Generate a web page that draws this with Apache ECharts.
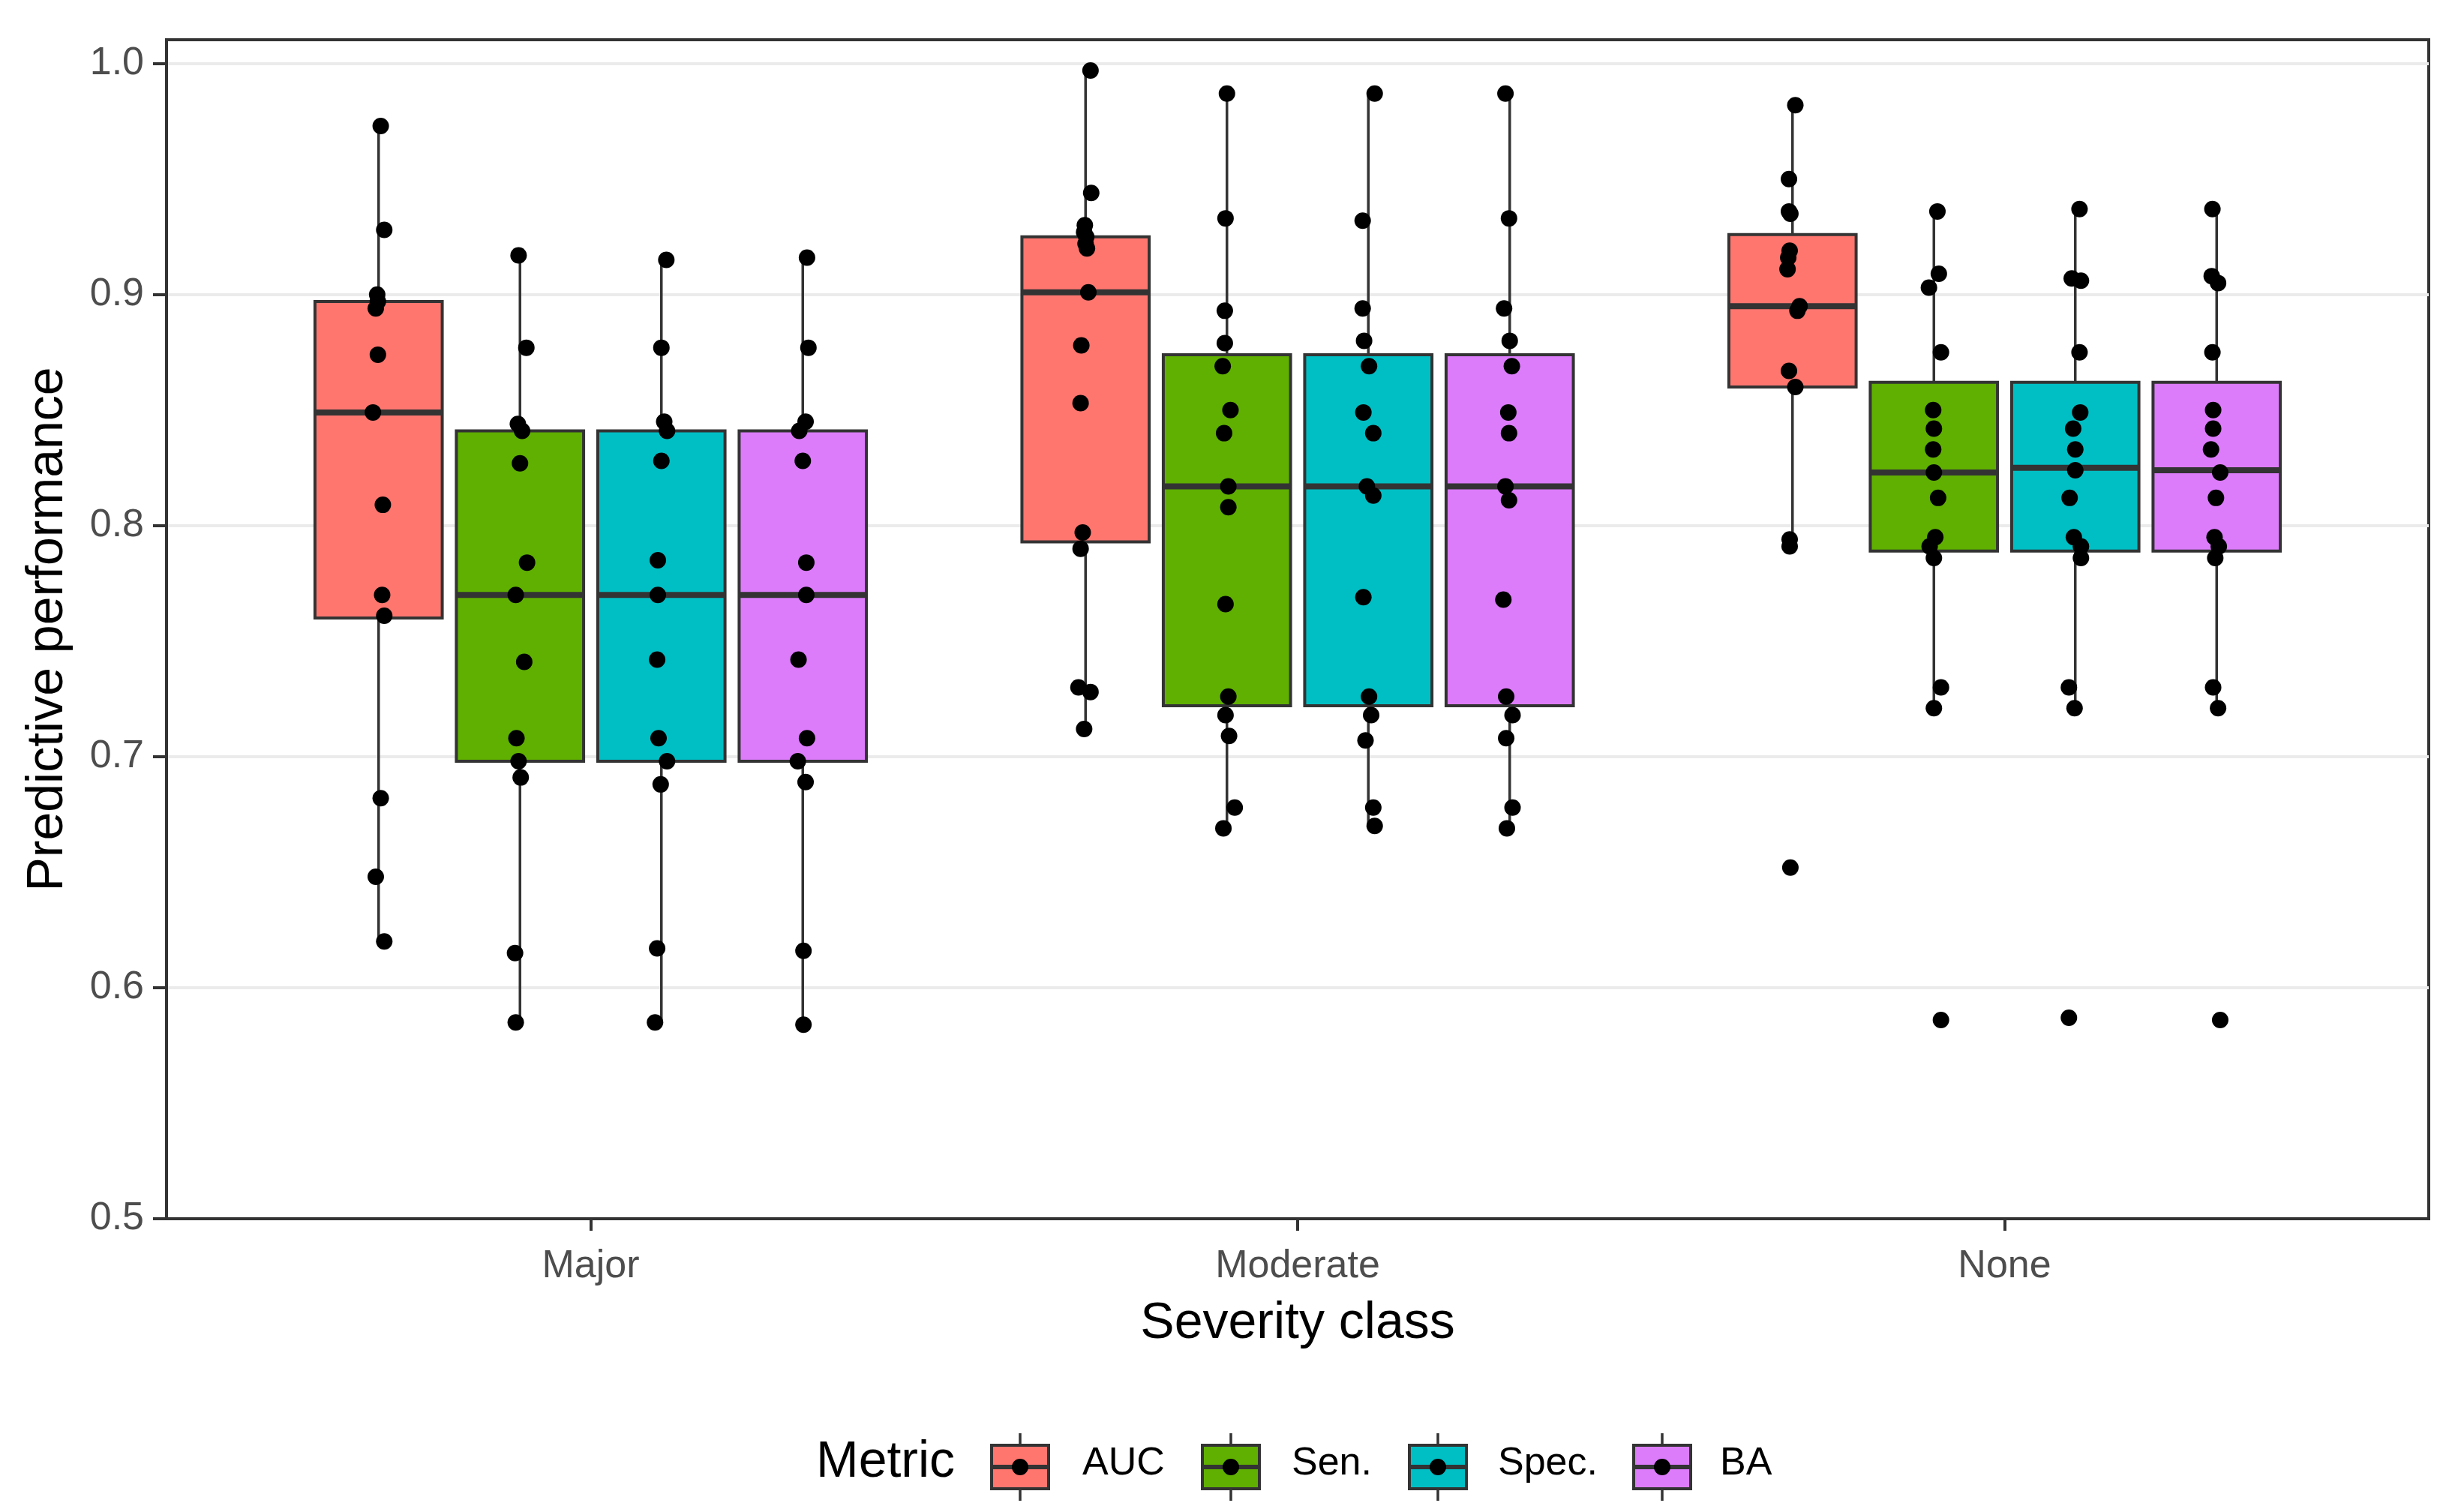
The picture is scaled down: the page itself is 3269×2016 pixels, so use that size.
<!DOCTYPE html>
<html>
<head>
<meta charset="utf-8">
<script src="https://cdn.jsdelivr.net/npm/echarts@6/dist/echarts.min.js"></script>
<style>
  html, body { margin: 0; padding: 0; background: #fff; }
  #chart { width: 3269px; height: 2016px; }
</style>
</head>
<body>
<div id="chart"></div>
<script>
// categories, metrics and ticks
const categories = ['Major', 'Moderate', 'None'];
const metrics = ['AUC', 'Sen.', 'Spec.', 'BA'];
const metricColors = ['#FF766F', '#5FB000', '#00BFC4', '#DC7CFB'];
const yTicks = [0.5, 0.6, 0.7, 0.8, 0.9, 1.0];

// box stats per category: [lower whisker, Q1, median, Q3, upper whisker]
const aucBox  = [[0.620, 0.760, 0.849, 0.897, 0.973], [0.712, 0.793, 0.901, 0.925, 0.997], [0.791, 0.860, 0.895, 0.926, 0.982]];
const senBox  = [[0.585, 0.698, 0.770, 0.841, 0.917], [0.669, 0.722, 0.817, 0.874, 0.987], [0.721, 0.789, 0.823, 0.862, 0.936]];
const specBox = [[0.585, 0.698, 0.770, 0.841, 0.915], [0.670, 0.722, 0.817, 0.874, 0.987], [0.721, 0.789, 0.825, 0.862, 0.937]];
const baBox   = [[0.584, 0.698, 0.770, 0.841, 0.916], [0.669, 0.722, 0.817, 0.874, 0.987], [0.721, 0.789, 0.824, 0.862, 0.937]];

// individual results (one array per category)
const aucPoints = [
  [0.973, 0.928, 0.900, 0.897, 0.894, 0.874, 0.849, 0.809, 0.770, 0.761, 0.682, 0.648, 0.620],
  [0.997, 0.944, 0.930, 0.927, 0.925, 0.922, 0.920, 0.901, 0.878, 0.853, 0.797, 0.790, 0.730, 0.728, 0.712],
  [0.982, 0.950, 0.936, 0.935, 0.919, 0.916, 0.911, 0.895, 0.893, 0.867, 0.860, 0.794, 0.791, 0.652]
];
const senPoints = [
  [0.917, 0.877, 0.844, 0.841, 0.827, 0.784, 0.770, 0.741, 0.708, 0.698, 0.691, 0.615, 0.585],
  [0.987, 0.933, 0.893, 0.879, 0.869, 0.850, 0.840, 0.817, 0.808, 0.766, 0.726, 0.718, 0.709, 0.678, 0.669],
  [0.936, 0.909, 0.903, 0.875, 0.850, 0.842, 0.833, 0.823, 0.812, 0.795, 0.791, 0.786, 0.730, 0.721, 0.586]
];
const specPoints = [
  [0.915, 0.877, 0.845, 0.841, 0.828, 0.785, 0.770, 0.742, 0.708, 0.698, 0.688, 0.617, 0.585],
  [0.987, 0.932, 0.894, 0.880, 0.869, 0.849, 0.840, 0.817, 0.813, 0.769, 0.726, 0.718, 0.707, 0.678, 0.670],
  [0.937, 0.907, 0.906, 0.875, 0.849, 0.842, 0.833, 0.824, 0.812, 0.795, 0.791, 0.786, 0.730, 0.721, 0.587]
];
const baPoints = [
  [0.916, 0.877, 0.845, 0.841, 0.828, 0.784, 0.770, 0.742, 0.708, 0.698, 0.689, 0.616, 0.584],
  [0.987, 0.933, 0.894, 0.880, 0.869, 0.849, 0.840, 0.817, 0.811, 0.768, 0.726, 0.718, 0.708, 0.678, 0.669],
  [0.937, 0.908, 0.905, 0.875, 0.850, 0.842, 0.833, 0.823, 0.812, 0.795, 0.791, 0.786, 0.730, 0.721, 0.586]
];

// horizontal jitter of each point (x units)
const aucJitter = [
  [0.003, 0.008, -0.002, -0.001, -0.004, -0.001, -0.008, 0.006, 0.005, 0.008, 0.003, -0.004, 0.008],
  [0.007, 0.008, -0.001, -0.002, 0.001, 0, 0.002, 0.004, -0.006, -0.007, -0.004, -0.007, -0.010, 0.007, -0.002],
  [0.004, -0.005, -0.005, -0.003, -0.004, -0.006, -0.007, 0.010, 0.007, -0.005, 0.004, -0.004, -0.004, -0.003]
];
const senJitter = [
  [-0.002, 0.009, -0.003, 0.003, 0, 0.010, -0.006, 0.006, -0.005, -0.002, 0.001, -0.007, -0.006],
  [0, -0.002, -0.003, -0.003, -0.006, 0.005, -0.004, 0.002, 0.002, -0.002, 0.002, -0.002, 0.003, 0.011, -0.005],
  [0.005, 0.007, -0.007, 0.010, -0.001, 0, -0.001, 0, 0.006, 0.002, -0.006, 0, 0.010, 0, 0.010]
];
const specJitter = [
  [0.007, 0, 0.004, 0.008, 0, -0.005, -0.005, -0.006, -0.004, 0.008, -0.001, -0.006, -0.009],
  [0.009, -0.008, -0.008, -0.006, 0.001, -0.007, 0.007, -0.002, 0.007, -0.007, 0.001, 0.004, -0.004, 0.007, 0.009],
  [0.006, -0.005, 0.008, 0.006, 0.007, -0.003, 0, 0, -0.008, -0.002, 0.008, 0.008, -0.009, -0.001, -0.009]
];
const baJitter = [
  [0.006, 0.008, 0.004, -0.005, 0, 0.005, 0.005, -0.006, 0.006, -0.007, 0.004, 0.001, 0.001],
  [-0.006, -0.001, -0.008, 0, 0.003, -0.002, -0.001, -0.006, -0.001, -0.009, -0.005, 0.004, -0.005, 0.004, -0.004],
  [-0.006, -0.007, 0.002, -0.006, -0.005, -0.005, -0.008, 0.005, -0.001, -0.003, 0.003, -0.002, -0.005, 0.002, 0.005]
];

const allBoxes = [aucBox, senBox, specBox, baBox];
const allPoints = [aucPoints, senPoints, specPoints, baPoints];
const allJitter = [aucJitter, senJitter, specJitter, baJitter];

// dodge layout (ggplot style: 4 boxes in 0.8 units)
const dodge = [-0.3, -0.1, 0.1, 0.3];
const boxWidth = 0.18;
const lineCol = '#333333';
const font = '"Liberation Sans", Arial, sans-serif';

function renderBox(params, api) {
  const x = api.value(0);
  const lo = api.coord([x, api.value(1)]);
  const q1 = api.coord([x, api.value(2)]);
  const med = api.coord([x, api.value(3)]);
  const q3 = api.coord([x, api.value(4)]);
  const hi = api.coord([x, api.value(5)]);
  const half = api.size([boxWidth, 0])[0] / 2;
  const fill = api.visual('color');
  return {
    type: 'group',
    children: [
      { type: 'line', shape: { x1: q3[0], y1: q3[1], x2: hi[0], y2: hi[1] }, style: { stroke: lineCol, lineWidth: 3.5 } },
      { type: 'line', shape: { x1: q1[0], y1: q1[1], x2: lo[0], y2: lo[1] }, style: { stroke: lineCol, lineWidth: 3.5 } },
      { type: 'rect', shape: { x: q3[0] - half, y: q3[1], width: half * 2, height: q1[1] - q3[1] },
        style: { fill: fill, stroke: lineCol, lineWidth: 4 } },
      { type: 'line', shape: { x1: med[0] - half, y1: med[1], x2: med[0] + half, y2: med[1] },
        style: { stroke: lineCol, lineWidth: 8 } }
    ]
  };
}

const series = [];
metrics.forEach((m, mi) => {
  const boxes = allBoxes[mi];
  series.push({
    type: 'custom',
    name: m,
    renderItem: renderBox,
    itemStyle: { color: metricColors[mi] },
    encode: { x: 0, y: [1, 2, 3, 4, 5] },
    data: categories.map((c, ci) => [ci + 1 + dodge[mi]].concat(boxes[ci])),
    z: 2
  });
});
metrics.forEach((m, mi) => {
  const pts = [];
  categories.forEach((c, ci) => {
    const xc = ci + 1 + dodge[mi];
    allPoints[mi][ci].forEach((v, k) => {
      pts.push([xc + allJitter[mi][ci][k], v]);
    });
  });
  series.push({
    type: 'scatter',
    name: m + ' points',
    symbol: 'circle',
    symbolSize: 22,
    itemStyle: { color: '#000', opacity: 1 },
    data: pts,
    z: 3
  });
});

// legend drawn as ggplot-like keys
const legendKeyX = [1322, 1603, 1879, 2178];
const legendTextX = [1443, 1722, 1997, 2293];
const legendY = 1956;
const legendGraphics = [
  { type: 'text', left: 1088, top: legendY - 40,
    style: { text: 'Metric', font: '68px ' + font, fill: '#000' } }
];
metrics.forEach((m, mi) => {
  const kx = legendKeyX[mi], kw = 76, kh = 58;
  const cx = kx + kw / 2;
  legendGraphics.push(
    { type: 'line', shape: { x1: cx, y1: legendY - kh / 2 - 16, x2: cx, y2: legendY + kh / 2 + 16 },
      style: { stroke: lineCol, lineWidth: 3.5 } },
    { type: 'rect', shape: { x: kx, y: legendY - kh / 2, width: kw, height: kh },
      style: { fill: metricColors[mi], stroke: lineCol, lineWidth: 4 } },
    { type: 'line', shape: { x1: kx, y1: legendY, x2: kx + kw, y2: legendY },
      style: { stroke: lineCol, lineWidth: 6 } },
    { type: 'circle', shape: { cx: cx, cy: legendY, r: 11 }, style: { fill: '#000' } },
    { type: 'text', left: legendTextX[mi], top: legendY - 30,
      style: { text: m, font: '52px ' + font, fill: '#000' } }
  );
});

const chart = echarts.init(document.getElementById('chart'));
chart.setOption({
  animation: false,
  backgroundColor: '#fff',
  textStyle: { fontFamily: font },
  grid: {
    left: 222, right: 31, top: 53, bottom: 391,
    show: true, borderColor: lineCol, borderWidth: 4,
    outerBoundsMode: 'none'
  },
  xAxis: {
    type: 'value',
    min: 0.4,
    max: 3.6,
    axisLine: { show: true, lineStyle: { color: lineCol, width: 4 } },
    splitLine: { show: false },
    axisTick: { show: true, customValues: [1, 2, 3], length: 16, lineStyle: { color: lineCol, width: 4 } },
    axisLabel: {
      customValues: [1, 2, 3],
      formatter: v => categories[Math.round(v) - 1],
      fontSize: 52, color: '#4d4d4d', margin: 38, fontFamily: font
    },
    name: 'Severity class',
    nameLocation: 'middle',
    nameGap: 106,
    nameTextStyle: { fontSize: 68, color: '#000', fontFamily: font }
  },
  yAxis: {
    type: 'value',
    min: 0.5,
    max: 1.0103,
    interval: 0.1,
    axisLine: { show: true, lineStyle: { color: lineCol, width: 4 } },
    axisTick: { show: true, customValues: yTicks, length: 18, lineStyle: { color: lineCol, width: 4 } },
    axisLabel: {
      customValues: yTicks,
      formatter: v => v.toFixed(1),
      fontSize: 52, color: '#4d4d4d', margin: 30, fontFamily: font
    },
    splitLine: { show: true, lineStyle: { color: '#EBEBEB', width: 4 } },
    name: 'Predictive performance',
    nameLocation: 'middle',
    nameGap: 124,
    nameTextStyle: { fontSize: 68, color: '#000', fontFamily: font }
  },
  graphic: legendGraphics,
  series: series
});
</script>
</body>
</html>
